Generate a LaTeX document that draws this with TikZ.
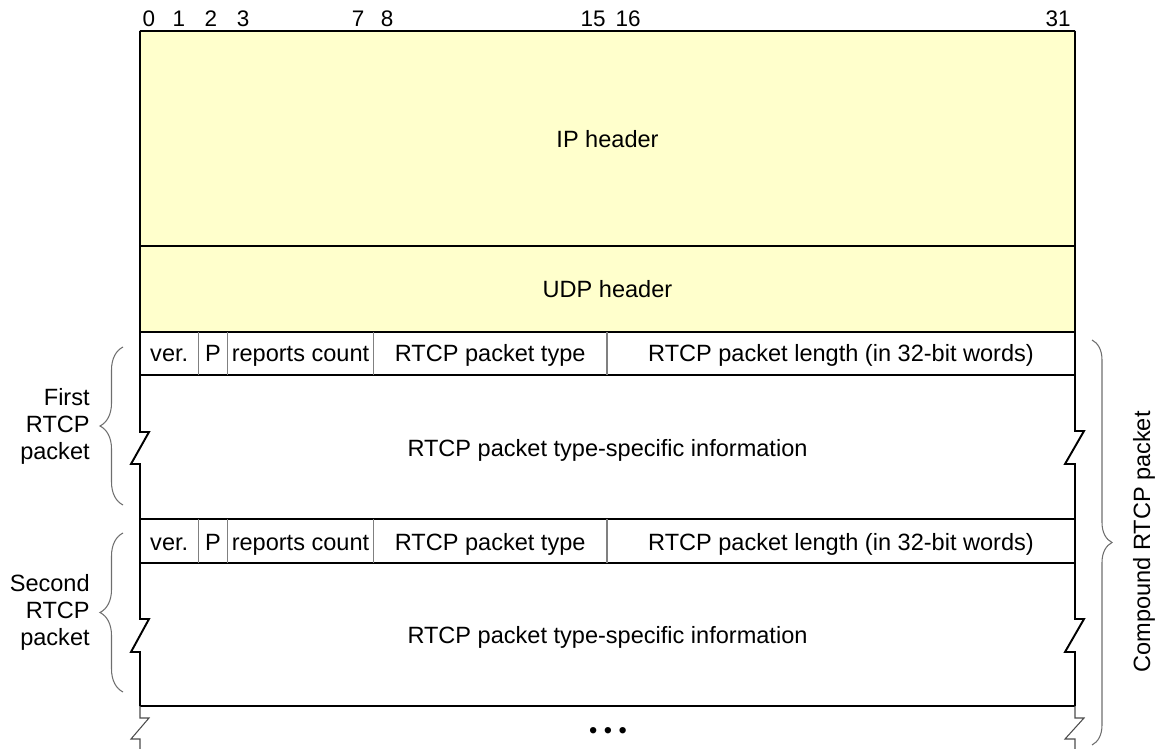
\documentclass[tikz,border=0pt]{standalone}
\usepackage{fontspec}
\setmainfont{Liberation Sans}
\usepackage{xcolor}
\usepackage{tikz}
\usetikzlibrary{decorations.pathreplacing}
\definecolor{hdryellow}{HTML}{FFFFCC}
\definecolor{divgrey}{HTML}{808080}
\definecolor{bracegrey}{HTML}{6E6E6E}

\begin{document}
\begin{tikzpicture}[
    x=0.02cm, y=-0.02cm,
    every node/.style={inner sep=0pt, anchor=base, font=\fontsize{13.4}{15.4}\selectfont},
    bitnum/.style={font=\fontsize{12.8}{14}\selectfont},
    boxln/.style={line width=1.1pt},
    thinln/.style={divgrey, line width=0.6pt},
    brc/.style={decorate, decoration={brace, amplitude=#1}, bracegrey, line width=0.6pt}
]
\useasboundingbox (0,0) rectangle (1159,749);
% ---- BIT NUMBERS ----
\node[bitnum] (b0) at (149,27) {0};
\node[bitnum] (b1) at (179,27) {1};
\node[bitnum] (b2) at (211,27) {2};
\node[bitnum] (b3) at (243,27) {3};
\node[bitnum] (b7) at (358,27) {7};
\node[bitnum] (b8) at (387,27) {8};
\node[bitnum] (b15) at (593,27) {15};
\node[bitnum] (b16) at (628,27) {16};
\node[bitnum] (b31) at (1058,27) {31};

% ---- IP / UDP HEADERS ----
\fill[hdryellow] (140,31) rectangle (1075,332);
\node (ip) at (607.5,147.5) {IP header};
\node (udp) at (607.5,298) {UDP header};

% ---- OUTLINE ----
\draw[boxln] (140,31) -- (140,432) -- (149,432) -- (131,464) -- (140,464) -- (140,619) -- (149,619) -- (131,652) -- (140,652) -- (140,706);
\draw[boxln] (1075,31) -- (1075,431) -- (1084,431) -- (1065,464) -- (1075,464) -- (1075,619) -- (1084,619) -- (1065,652) -- (1075,652) -- (1075,706);
\draw[boxln] (140,31) -- (1075,31);
\draw[boxln] (140,246) -- (1075,246);
\draw[boxln] (140,332) -- (1075,332);
\draw[boxln] (140,375) -- (1075,375);
\draw[boxln] (140,519) -- (1075,519);
\draw[boxln] (140,563) -- (1075,563);
\draw[boxln] (140,706) -- (1075,706);
% open end below
\draw[thinln, black!70] (140,706) -- (140,718) -- (149,718) -- (131,739) -- (140,739) -- (140,749);
\draw[thinln, black!70] (1075,706) -- (1075,718) -- (1084,718) -- (1065,739) -- (1075,739) -- (1075,749);

% ---- FIRST RTCP PACKET ----
\draw[thinln] (198.4,332) -- (198.4,375);
\draw[thinln] (227.6,332) -- (227.6,375);
\draw[thinln] (373.5,332) -- (373.5,375);
\draw[thinln] (607,332) -- (607,375);
\node (v1) at (169.2,362) {ver.};
\node (p1) at (213,362) {P};
\node (rc1) at (300.5,362) {reports count};
\node (pt1) at (490.2,362) {RTCP packet type};
\node (pl1) at (841,362) {RTCP packet length (in 32-bit words)};
\node (inf1) at (607.5,457) {RTCP packet type-specific information};

% ---- SECOND RTCP PACKET ----
\draw[thinln] (198.4,519) -- (198.4,563);
\draw[thinln] (227.6,519) -- (227.6,563);
\draw[thinln] (373.5,519) -- (373.5,563);
\draw[thinln] (607,519) -- (607,563);
\node (v2) at (169.2,550) {ver.};
\node (p2) at (213,550) {P};
\node (rc2) at (300.5,550) {reports count};
\node (pt2) at (490.2,550) {RTCP packet type};
\node (pl2) at (841,550) {RTCP packet length (in 32-bit words)};
\node (inf2) at (607.5,643) {RTCP packet type-specific information};

\node[anchor=center] (dots) at (608,733) {\textbullet\ \textbullet\ \textbullet};

% ---- BRACES ----
\coordinate (f1) at (123,505);
\coordinate (f2) at (123,347);
\coordinate (s1) at (123,692);
\coordinate (s2) at (123,533);
\coordinate (c1) at (1092,340);
\coordinate (c2) at (1092,745);
\draw[brc=0.46cm] (f1) -- (f2);
\draw[brc=0.46cm] (s1) -- (s2);
\draw[brc=0.4cm] (c1) -- (c2);
\node[anchor=east, align=right] (first) at (90,426) {First\\RTCP\\packet};
\node[anchor=east, align=right] (second) at (90,612) {Second\\RTCP\\packet};
\node[anchor=center, rotate=90] (comp) at (1144,542) {Compound RTCP packet};
\end{tikzpicture}
\end{document}
